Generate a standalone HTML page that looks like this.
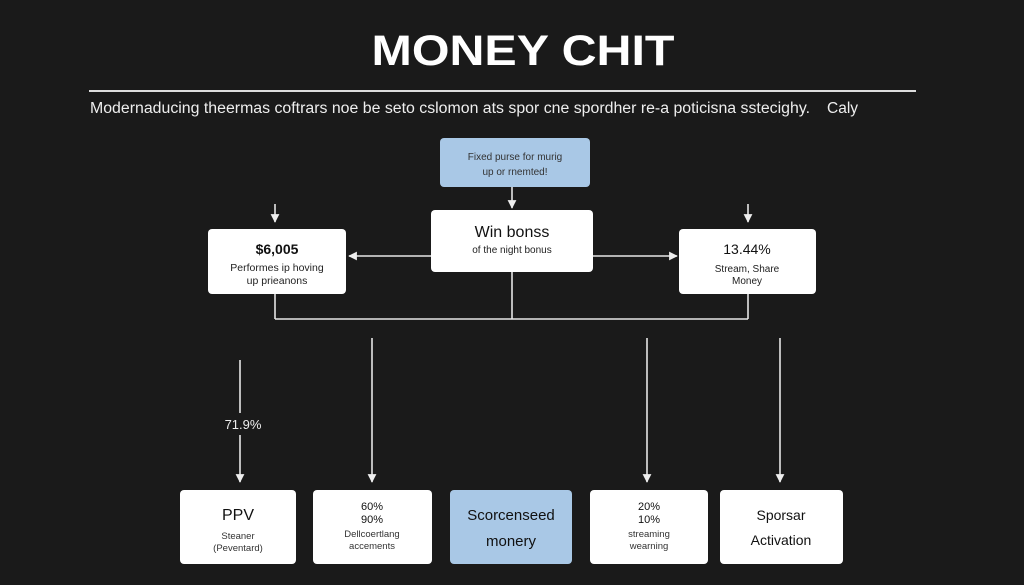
<!DOCTYPE html>
<html><head><meta charset="utf-8"><style>
html,body{margin:0;padding:0;background:#1a1a1a;}
svg{display:block;font-family:"Liberation Sans",sans-serif;}
</style></head><body>
<svg width="1024" height="585" viewBox="0 0 1024 585" xmlns="http://www.w3.org/2000/svg">
<defs>
<marker id="a" viewBox="0 0 10 10" refX="9" refY="5" markerWidth="5.5" markerHeight="5.5" orient="auto-start-reverse">
<path d="M0,0 L10,5 L0,10 z" fill="#eee"/></marker>
</defs>
<rect width="1024" height="585" fill="#1a1a1a"/>
<text x="523" y="65" text-anchor="middle" font-size="43" font-weight="bold" fill="#fff" textLength="303" lengthAdjust="spacingAndGlyphs">MONEY CHIT</text>
<line x1="89" y1="91" x2="916" y2="91" stroke="#ddd" stroke-width="2"/>
<text x="90" y="113" font-size="15.5" fill="#eee" textLength="720" lengthAdjust="spacingAndGlyphs">Modernaducing theermas coftrars noe be seto cslomon ats spor cne spordher re-a poticisna sstecighy.</text>
<text x="827" y="113" font-size="15.5" fill="#eee">Caly</text>

<g stroke="#e6e6e6" stroke-width="1.6" fill="none">
<line x1="512" y1="187" x2="512" y2="208" marker-end="url(#a)"/>
<line x1="275" y1="204" x2="275" y2="222" marker-end="url(#a)"/>
<line x1="748" y1="204" x2="748" y2="222" marker-end="url(#a)"/>
<line x1="431" y1="256" x2="349" y2="256" marker-end="url(#a)"/>
<line x1="593" y1="256" x2="677" y2="256" marker-end="url(#a)"/>
<line x1="275" y1="294" x2="275" y2="319"/>
<line x1="748" y1="294" x2="748" y2="319"/>
<line x1="512" y1="272" x2="512" y2="319"/>
<line x1="275" y1="319" x2="748" y2="319"/>
<line x1="240" y1="360" x2="240" y2="482" marker-end="url(#a)"/>
<line x1="372" y1="338" x2="372" y2="482" marker-end="url(#a)"/>
<line x1="647" y1="338" x2="647" y2="482" marker-end="url(#a)"/>
<line x1="780" y1="338" x2="780" y2="482" marker-end="url(#a)"/>
</g>
<rect x="210" y="413" width="60" height="22" fill="#1a1a1a"/>
<text x="243" y="429" text-anchor="middle" font-size="13" fill="#eee">71.9%</text>

<rect x="440" y="138" width="150" height="49" rx="4" fill="#a9c8e6"/>
<text x="515" y="160" text-anchor="middle" font-size="10" fill="#333">Fixed purse for murig</text>
<text x="515" y="175" text-anchor="middle" font-size="10" fill="#333">up or rnemted!</text>

<rect x="431" y="210" width="162" height="62" rx="4" fill="#fff"/>
<text x="512" y="237" text-anchor="middle" font-size="16" fill="#111">Win bonss</text>
<text x="512" y="253" text-anchor="middle" font-size="10" fill="#222">of the night bonus</text>

<rect x="208" y="229" width="138" height="65" rx="4" fill="#fff"/>
<text x="277" y="254" text-anchor="middle" font-size="14" font-weight="bold" fill="#111">$6,005</text>
<text x="277" y="271" text-anchor="middle" font-size="10.5" fill="#222">Performes ip hoving</text>
<text x="277" y="284" text-anchor="middle" font-size="10.5" fill="#222">up prieanons</text>

<rect x="679" y="229" width="137" height="65" rx="4" fill="#fff"/>
<text x="747" y="254" text-anchor="middle" font-size="14" fill="#111">13.44%</text>
<text x="747" y="272" text-anchor="middle" font-size="10" fill="#222">Stream, Share</text>
<text x="747" y="284" text-anchor="middle" font-size="10" fill="#222">Money</text>

<rect x="180" y="490" width="116" height="74" rx="4" fill="#fff"/>
<text x="238" y="520" text-anchor="middle" font-size="16" fill="#111">PPV</text>
<text x="238" y="539" text-anchor="middle" font-size="9.5" fill="#333">Steaner</text>
<text x="238" y="551" text-anchor="middle" font-size="9.5" fill="#333">(Peventard)</text>

<rect x="313" y="490" width="119" height="74" rx="4" fill="#fff"/>
<text x="372" y="510" text-anchor="middle" font-size="11" fill="#111">60%</text>
<text x="372" y="523" text-anchor="middle" font-size="11" fill="#111">90%</text>
<text x="372" y="537" text-anchor="middle" font-size="9.5" fill="#333">Dellcoertlang</text>
<text x="372" y="549" text-anchor="middle" font-size="9.5" fill="#333">accements</text>

<rect x="450" y="490" width="122" height="74" rx="4" fill="#a9c8e6"/>
<text x="511" y="520" text-anchor="middle" font-size="15" fill="#111">Scorcenseed</text>
<text x="511" y="546" text-anchor="middle" font-size="15" fill="#111">monery</text>

<rect x="590" y="490" width="118" height="74" rx="4" fill="#fff"/>
<text x="649" y="510" text-anchor="middle" font-size="11" fill="#111">20%</text>
<text x="649" y="523" text-anchor="middle" font-size="11" fill="#111">10%</text>
<text x="649" y="537" text-anchor="middle" font-size="9.5" fill="#333">streaming</text>
<text x="649" y="549" text-anchor="middle" font-size="9.5" fill="#333">wearning</text>

<rect x="720" y="490" width="123" height="74" rx="4" fill="#fff"/>
<text x="781" y="520" text-anchor="middle" font-size="14" fill="#111">Sporsar</text>
<text x="781" y="545" text-anchor="middle" font-size="14" fill="#111">Activation</text>
</svg>
</body></html>
